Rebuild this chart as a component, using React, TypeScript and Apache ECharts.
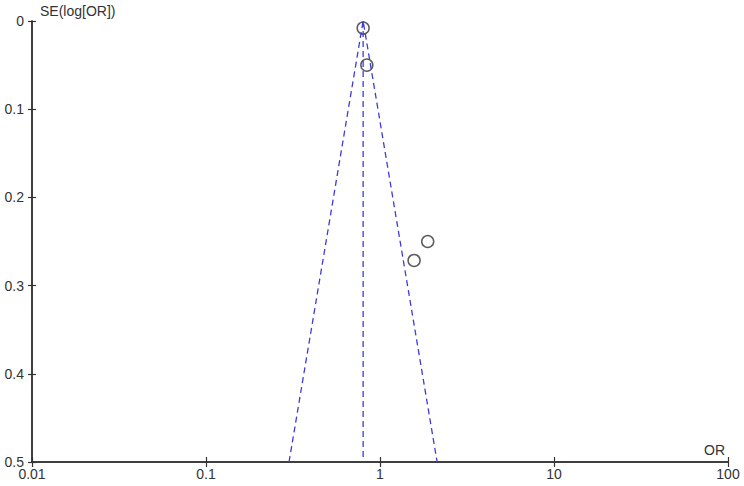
import React, { useEffect, useRef } from "react";
import * as echarts from "echarts";

const studyOR = [0.8, 0.84, 1.88, 1.57];
const studySE = [0.008, 0.05, 0.25, 0.2715];
const pooledOR = 0.8;
const seMax = 0.5;
const funnelLowAtMax = 0.3;
const funnelHighAtMax = 2.13;
const xTicks = [0.01, 0.1, 1, 10, 100];
const yTicks = [0, 0.1, 0.2, 0.3, 0.4, 0.5];

export default function App() {
  const ref = useRef<HTMLDivElement>(null);
  useEffect(() => {
    if (!ref.current) return;
    const chart = echarts.init(ref.current, undefined, { renderer: "svg" });
    const font = "Liberation Sans, Arial, sans-serif";
    const axisLine = { show: true, onZero: false, lineStyle: { color: "#333", width: 1.5 } };
    const dashed = { color: "#3b3bdc", width: 1.3, type: [6, 4] as any };
    const baseX = {
      type: "log" as const,
      logBase: 10,
      min: xTicks[0],
      max: xTicks[xTicks.length - 1],
      position: "bottom" as const,
      axisLine,
      splitLine: { show: false },
      minorTick: { show: false },
    };
    const baseY = {
      type: "value" as const,
      min: yTicks[0],
      max: yTicks[yTicks.length - 1],
      interval: 0.1,
      inverse: true,
      position: "left" as const,
      axisLine,
      splitLine: { show: false },
    };
    chart.setOption({
      animation: false,
      backgroundColor: "#fff",
      grid: { left: 32, right: 16, top: 21, bottom: 24, containLabel: false },
      xAxis: [
        {
          ...baseX,
          axisTick: { show: true, length: 5, lineStyle: { color: "#333", width: 1.2 } },
          axisLabel: { color: "#333", fontFamily: font, fontSize: 14, margin: 5 },
        },
        {
          ...baseX,
          axisTick: { show: true, inside: true, length: 5, lineStyle: { color: "#333", width: 1.2 } },
          axisLabel: { show: false },
        },
      ],
      yAxis: [
        {
          ...baseY,
          axisTick: { show: true, length: 4, lineStyle: { color: "#333", width: 1.2 } },
          axisLabel: { color: "#333", fontFamily: font, fontSize: 14, margin: 8 },
        },
        {
          ...baseY,
          axisTick: { show: true, inside: true, length: 4, lineStyle: { color: "#333", width: 1.2 } },
          axisLabel: { show: false },
        },
      ],
      graphic: [
        {
          type: "text",
          left: 40,
          top: 4,
          style: { text: "SE(log[OR])", fill: "#333", font: `14px ${font}` },
        },
        {
          type: "text",
          left: 704,
          top: 443,
          style: { text: "OR", fill: "#333", font: `14px ${font}` },
        },
      ],
      series: [
        {
          type: "line",
          symbol: "none",
          lineStyle: dashed,
          data: [
            [funnelLowAtMax, seMax],
            [pooledOR, 0],
            [funnelHighAtMax, seMax],
          ],
        },
        {
          type: "line",
          symbol: "none",
          lineStyle: dashed,
          data: [
            [pooledOR, 0],
            [pooledOR, seMax],
          ],
        },
        {
          type: "scatter",
          symbol: "circle",
          symbolSize: 12,
          itemStyle: { color: "rgba(0,0,0,0)", borderColor: "#333", borderWidth: 1.5 },
          data: studyOR.map((o, i) => [o, studySE[i]]),
        },
      ],
    });
    return () => chart.dispose();
  }, []);
  return (
    <div
      ref={ref}
      style={{ position: "fixed", left: 0, top: 0, width: 744, height: 486 }}
    />
  );
}
